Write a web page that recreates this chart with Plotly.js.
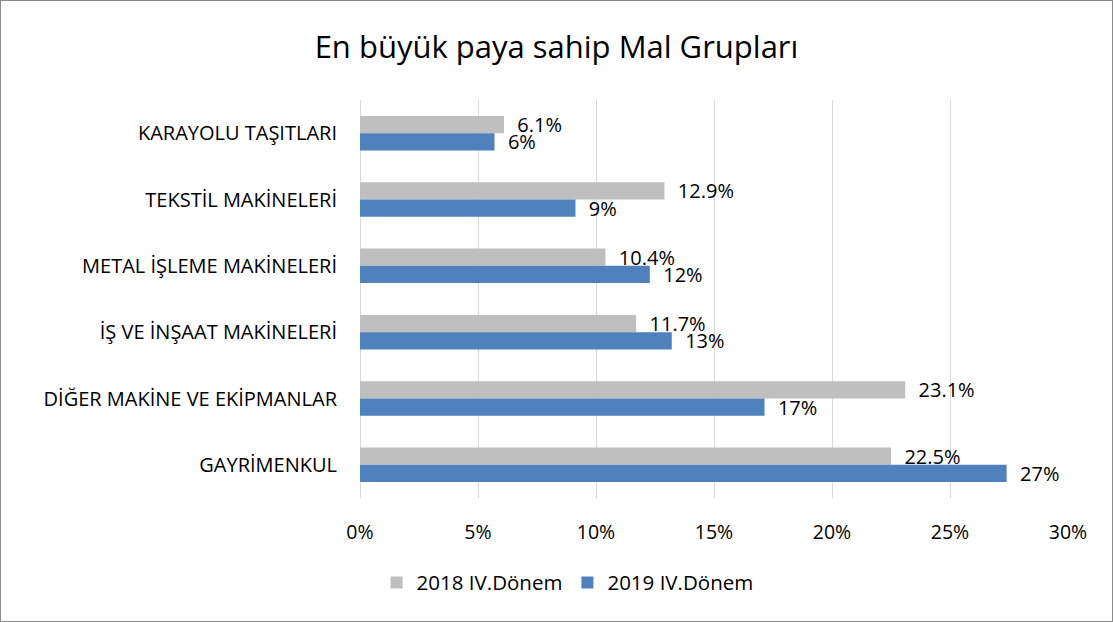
<!DOCTYPE html>
<html>
<head>
<meta charset="utf-8">
<script src="https://cdn.plot.ly/plotly-3.0.1.min.js"></script>
<style>
html,body{margin:0;padding:0;background:#fff;}
#chart{width:1111px;height:620px;border:1px solid #8c8c8c;box-sizing:content-box;}
</style>
</head>
<body>
<div id="chart"></div>
<script>
const categories = ["KARAYOLU TAŞITLARI","TEKSTİL MAKİNELERİ","METAL İŞLEME MAKİNELERİ","İŞ VE İNŞAAT MAKİNELERİ","DİĞER MAKİNE VE EKİPMANLAR","GAYRİMENKUL"];
const values2018 = [0.061, 0.129, 0.104, 0.117, 0.231, 0.225];
const values2019 = [0.057, 0.0913, 0.1228, 0.1321, 0.1714, 0.274];
const seriesNames = ["2018 IV.Dönem","2019 IV.Dönem"];
const tickVals = [0, 0.05, 0.10, 0.15, 0.20, 0.25, 0.30];

const FONT = "'Open Sans', sans-serif";
const traces = [
  {type:'bar', orientation:'h', name:seriesNames[0], y:categories, x:values2018,
   marker:{color:'#BFBFBF'}, texttemplate:'  %{x:.1%}', textposition:'outside',
   constraintext:'none', cliponaxis:false, textfont:{size:20,color:'#000',family:FONT}, hoverinfo:'x+y'},
  {type:'bar', orientation:'h', name:seriesNames[1], y:categories, x:values2019,
   marker:{color:'#4F81BD'}, texttemplate:'  %{x:.0%}', textposition:'outside',
   constraintext:'none', cliponaxis:false, textfont:{size:20,color:'#000',family:FONT}, hoverinfo:'x+y'}
];
const layout = {
  width:1111, height:620,
  margin:{l:359, r:44, t:99, b:123},
  paper_bgcolor:'#fff', plot_bgcolor:'#fff',
  font:{family:FONT, size:19, color:'#000'},
  title:{text:'En büyük paya sahip Mal Grupları', x:0.5, xanchor:'center', y:0.925, yanchor:'middle',
         font:{size:31, family:FONT, color:'#000'}},
  barmode:'group', bargap:0.48, bargroupgap:0,
  xaxis:{range:[0,0.30], tickvals:tickVals, tickformat:'.0%', showgrid:true, gridcolor:'#D9D9D9', gridwidth:1,
         zeroline:true, zerolinecolor:'#D9D9D9', zerolinewidth:1, showline:false, ticks:'',
         ticklabelstandoff:20, tickfont:{size:19.5, family:FONT, color:'#000'}, fixedrange:true},
  yaxis:{autorange:'reversed', showgrid:false, zeroline:false, showline:false, ticks:'',
         ticklabelstandoff:22, tickfont:{size:20, family:FONT, color:'#000'}, fixedrange:true},
  legend:{orientation:'h', x:0.51, xanchor:'center', xref:'container', y:0.062, yanchor:'middle', yref:'container',
          font:{size:20.5, family:FONT, color:'#000'}, traceorder:'normal', itemwidth:30},
  showlegend:true
};
Plotly.newPlot('chart', traces, layout, {displayModeBar:false, staticPlot:true});
</script>
</body>
</html>
